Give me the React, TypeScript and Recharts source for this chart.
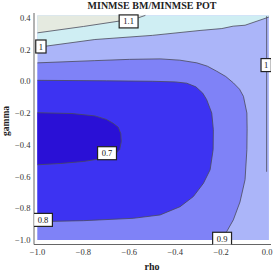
import { ComposedChart, Area, Line, Scatter, XAxis, YAxis } from 'recharts';

const RHO_TICKS = [-1.0, -0.8, -0.6, -0.4, -0.2, 0.0];
const RHO_MINOR = [-0.95, -0.9, -0.85, -0.75, -0.7, -0.65, -0.55, -0.5, -0.45, -0.35, -0.3, -0.25, -0.15, -0.1, -0.05];
const GAMMA_TICKS = [-1.0, -0.8, -0.6, -0.4, -0.2, 0.0, 0.2, 0.4];
const GAMMA_MINOR = [
  -0.95, -0.9, -0.85, -0.75, -0.7, -0.65, -0.55, -0.5, -0.45, -0.35, -0.3,
  -0.25, -0.15, -0.1, -0.05, 0.05, 0.1, 0.15, 0.25, 0.3, 0.35,
];

// plotted region (rho x gamma)
const FILL_X = [-1, 0.008];
const FILL_Y = [-1, 0.415];

// contour lines, [rho, gamma]
const C_110 = [[-1, 0.305], [-0.8, 0.345], [-0.64, 0.38], [-0.56, 0.4], [-0.53, 0.415]];
const C_100 = [
  [-1, 0.214], [-0.75, 0.263], [-0.5, 0.289], [-0.292, 0.32], [-0.197, 0.332],
  [-0.148, 0.347], [-0.096, 0.353], [-0.009, 0.396], [0.008, 0.405],
];
const C_100_EDGE = [[-0.002, 0.41], [-0.002, -0.57]];
const C_090 = [
  [-1, 0.116], [-0.75, 0.13], [-0.6, 0.138], [-0.466, 0.141], [-0.38, 0.133],
  [-0.306, 0.116], [-0.26, 0.095], [-0.219, 0.063], [-0.18, 0.03], [-0.147, -0.01],
  [-0.12, -0.05], [-0.103, -0.095], [-0.088, -0.2], [-0.087, -0.3], [-0.088, -0.43],
  [-0.096, -0.62], [-0.118, -0.76], [-0.147, -0.873], [-0.176, -0.947], [-0.195, -1.0],
];
const C_080 = [
  [-1, 0.006], [-0.7, 0.003], [-0.5, 0.0], [-0.4, -0.004], [-0.35, -0.012],
  [-0.31, -0.035], [-0.28, -0.075], [-0.263, -0.116], [-0.241, -0.2], [-0.234, -0.305],
  [-0.235, -0.43], [-0.248, -0.557], [-0.277, -0.642], [-0.321, -0.726], [-0.379, -0.79],
  [-0.466, -0.842], [-0.583, -0.863], [-0.8, -0.878], [-1, -0.884],
];
const C_070 = [
  [-1, -0.198], [-0.85, -0.203], [-0.75, -0.218], [-0.7, -0.24], [-0.67, -0.265],
  [-0.648, -0.29], [-0.637, -0.33], [-0.635, -0.38], [-0.642, -0.43], [-0.665, -0.465],
  [-0.71, -0.485], [-0.8, -0.505], [-0.9, -0.518], [-1, -0.526],
];

const LABELS = [
  { x: -0.603, y: 0.377, t: '1.1' },
  { x: -0.985, y: 0.219, t: '1' },
  { x: -0.004, y: 0.102, t: '1' },
  { x: -0.697, y: -0.453, t: '0.7' },
  { x: -0.976, y: -0.873, t: '0.8' },
  { x: -0.196, y: -0.992, t: '0.9' },
];

const pts = (a: number[][]) => a.map(([x, y]) => ({ x, y }));
const SERIF = '"Liberation Serif", "Times New Roman", serif';
const LINE = '#4a4a5a';
const FRAME = '#666';

const fmt = (v: number) => (v < 0 ? '\u2212' : '') + Math.abs(v).toFixed(1);

function LabelBox(props: any) {
  const { cx, cy, payload } = props;
  const w = 6 + payload.t.length * 4.3;
  const h = 13;
  return (
    <g>
      <rect x={cx - w / 2} y={cy - h / 2} width={w} height={h} fill="#fff" stroke="#222" strokeWidth={1.2} />
      <text x={cx} y={cy + 3} textAnchor="middle" fontSize={8.5} fontFamily={SERIF} fill="#111">
        {payload.t}
      </text>
    </g>
  );
}

export default function App() {
  const xDom = [-1.015, 0.017];
  const yDom = [-1.028, 0.43];
  return (
    <div style={{ position: 'absolute', left: 0, top: 0, width: 274, height: 273, fontFamily: SERIF }}>
      <ComposedChart width={274} height={273} margin={{ top: 13, right: 3, bottom: 0, left: 0 }}>
        <Area data={pts([[FILL_X[0], FILL_Y[1]], [FILL_X[1], FILL_Y[1]]])} dataKey="y" type="linear"
          baseValue={FILL_Y[0]} fill="#abb5f9" fillOpacity={1} stroke="none" isAnimationActive={false} />
        <Area data={pts(C_100)} dataKey="y" type="linear" baseValue={FILL_Y[1]}
          fill="#cfeef3" fillOpacity={1} stroke={LINE} strokeWidth={0.8} isAnimationActive={false} />
        <Area data={pts(C_110)} dataKey="y" type="linear" baseValue={FILL_Y[1]}
          fill="#e5eae0" fillOpacity={1} stroke={LINE} strokeWidth={0.8} isAnimationActive={false} />
        <Area data={pts(C_090)} dataKey="y" type="linear" baseValue={FILL_Y[0]}
          fill="#7f82f7" fillOpacity={1} stroke={LINE} strokeWidth={0.8} isAnimationActive={false} />
        <Area data={pts(C_080)} dataKey="y" type="linear" baseValue={-0.884}
          fill="#3d33f2" fillOpacity={1} stroke={LINE} strokeWidth={0.8} isAnimationActive={false} />
        <Area data={pts(C_070)} dataKey="y" type="linear" baseValue={-0.526}
          fill="#2a10d6" fillOpacity={1} stroke={LINE} strokeWidth={0.8} isAnimationActive={false} />
        <Line data={pts(C_100_EDGE)} dataKey="y" type="linear" stroke={LINE} strokeWidth={0.8}
          dot={false} isAnimationActive={false} />
        <Scatter data={LABELS} dataKey="y" shape={LabelBox} isAnimationActive={false} />

        <XAxis dataKey="x" type="number" domain={xDom} allowDataOverflow ticks={RHO_TICKS} interval={0}
          tickFormatter={fmt} height={28.5} tickSize={0} tickMargin={4}
          axisLine={{ stroke: FRAME }} tick={{ fontSize: 8.5, fontFamily: SERIF, fill: '#333' }} />
        <XAxis xAxisId="bMaj" type="number" domain={xDom} allowDataOverflow ticks={RHO_TICKS} interval={0}
          mirror height={0} tickSize={4} tick={false} axisLine={false} tickLine={{ stroke: FRAME }} />
        <XAxis xAxisId="bMin" type="number" domain={xDom} allowDataOverflow ticks={RHO_MINOR} interval={0}
          mirror height={0} tickSize={2} tick={false} axisLine={false} tickLine={{ stroke: FRAME }} />
        <XAxis xAxisId="tMaj" orientation="top" type="number" domain={xDom} allowDataOverflow ticks={RHO_TICKS}
          interval={0} mirror height={0} tickSize={4} tick={false} axisLine={{ stroke: FRAME }} tickLine={{ stroke: FRAME }} />
        <XAxis xAxisId="tMin" orientation="top" type="number" domain={xDom} allowDataOverflow ticks={RHO_MINOR}
          interval={0} mirror height={0} tickSize={2} tick={false} axisLine={false} tickLine={{ stroke: FRAME }} />

        <YAxis type="number" domain={yDom} allowDataOverflow ticks={GAMMA_TICKS} interval={0}
          tickFormatter={fmt} width={34} tickSize={0} tickMargin={3.5}
          axisLine={{ stroke: FRAME }} tick={{ fontSize: 8.5, fontFamily: SERIF, fill: '#333' }} />
        <YAxis yAxisId="lMaj" type="number" domain={yDom} allowDataOverflow ticks={GAMMA_TICKS} interval={0}
          mirror width={0} tickSize={4} tick={false} axisLine={false} tickLine={{ stroke: FRAME }} />
        <YAxis yAxisId="lMin" type="number" domain={yDom} allowDataOverflow ticks={GAMMA_MINOR} interval={0}
          mirror width={0} tickSize={2} tick={false} axisLine={false} tickLine={{ stroke: FRAME }} />
        <YAxis yAxisId="rMaj" orientation="right" type="number" domain={yDom} allowDataOverflow ticks={GAMMA_TICKS}
          interval={0} mirror width={0} tickSize={4} tick={false} axisLine={{ stroke: FRAME }} tickLine={{ stroke: FRAME }} />
        <YAxis yAxisId="rMin" orientation="right" type="number" domain={yDom} allowDataOverflow ticks={GAMMA_MINOR}
          interval={0} mirror width={0} tickSize={2} tick={false} axisLine={false} tickLine={{ stroke: FRAME }} />

        <text x={152} y={9} textAnchor="middle" fontSize={10} fontWeight="bold" fontFamily={SERIF} fill="#222">
          MINMSE BM/MINMSE POT
        </text>
        <text x={152} y={270} textAnchor="middle" fontSize={10} fontWeight="bold" fontFamily={SERIF} fill="#222">
          rho
        </text>
        <text x={9} y={121} textAnchor="middle" fontSize={9.5} fontWeight="bold" fontFamily={SERIF} fill="#222"
          transform="rotate(-90 9 121)">
          gamma
        </text>
      </ComposedChart>
    </div>
  );
}
